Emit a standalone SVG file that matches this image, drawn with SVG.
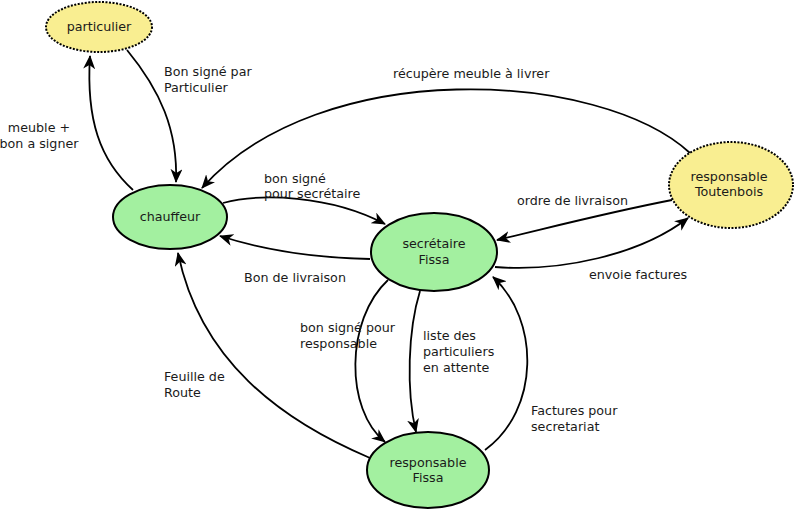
<svg xmlns="http://www.w3.org/2000/svg" width="796" height="511" viewBox="0 0 796 511">
<defs>
<style>
.g{fill:#a3f0a0;stroke:#000;stroke-width:2}
.y{fill:#f9ee91;stroke:#000;stroke-width:2;stroke-dasharray:2,1.5}
text{font-family:"DejaVu Sans",sans-serif;font-size:12.7px;fill:#1a1a1a}
.c{text-anchor:middle}
.e{fill:none;stroke:#000;stroke-width:1.8;marker-end:url(#ah)}
</style>
<marker id="ah" viewBox="0 0 14 12" refX="13" refY="6" markerWidth="14" markerHeight="12" markerUnits="userSpaceOnUse" orient="auto">
<path d="M0,0 L14,6 L0,12 L4,6 Z" fill="#000"/>
</marker>
</defs>
<rect width="796" height="511" fill="#fff"/>
<g id="connectors">
<path class="e" d="M133,190 C100,160 86,120 90,56"/>
<path class="e" d="M127,50 C160,90 178,130 176,182"/>
<path class="e" d="M690,153 C600,70 320,55 202,188"/>
<path class="e" d="M223,203 C260,193 330,195 385,224"/>
<path class="e" d="M370,259 C320,258 270,252 220,236"/>
<path class="e" d="M672,200 C610,212 560,225 497,240"/>
<path class="e" d="M495,267 C560,272 640,255 688,218"/>
<path class="e" d="M388,280 C345,320 345,410 385,442"/>
<path class="e" d="M420,291 C408,330 406,390 416,432"/>
<path class="e" d="M485,450 C540,410 540,320 493,277"/>
<path class="e" d="M370,458 C280,420 200,360 178,253"/>
</g>
<g id="labels">
<text class="c" x="39" y="132">meuble +</text>
<text class="c" x="39" y="148">bon a signer</text>
<text x="164" y="76">Bon signé par</text>
<text x="164" y="92">Particulier</text>
<text x="393" y="78">récupère meuble à livrer</text>
<text x="264" y="183">bon signé</text>
<text x="264" y="198">pour secrétaire</text>
<text x="244" y="282">Bon de livraison</text>
<text x="517" y="205">ordre de livraison</text>
<text x="589" y="279">envoie factures</text>
<text x="300" y="332">bon signé pour</text>
<text x="300" y="348">responsable</text>
<text x="423" y="340">liste des</text>
<text x="423" y="356">particuliers</text>
<text x="423" y="372">en attente</text>
<text x="164" y="381">Feuille de</text>
<text x="164" y="397">Route</text>
<text x="531" y="415">Factures pour</text>
<text x="531" y="431">secretariat</text>
</g>
<g id="particulier">
<ellipse class="y" cx="99" cy="27" rx="53" ry="25"/>
<text class="c" x="99" y="31">particulier</text>
</g>
<g id="chauffeur">
<ellipse class="g" cx="170" cy="217" rx="57" ry="32"/>
<text class="c" x="170" y="221">chauffeur</text>
</g>
<g id="secretaire">
<ellipse class="g" cx="434" cy="252" rx="63" ry="39"/>
<text class="c" x="434" y="248">secrétaire</text>
<text class="c" x="434" y="264">Fissa</text>
</g>
<g id="toutenbois">
<ellipse class="y" cx="731" cy="185" rx="62" ry="43"/>
<text class="c" x="729" y="181">responsable</text>
<text class="c" x="729" y="196">Toutenbois</text>
</g>
<g id="responsableFissa">
<ellipse class="g" cx="428" cy="470" rx="61" ry="38"/>
<text class="c" x="428" y="467">responsable</text>
<text class="c" x="428" y="482">Fissa</text>
</g>
</svg>
